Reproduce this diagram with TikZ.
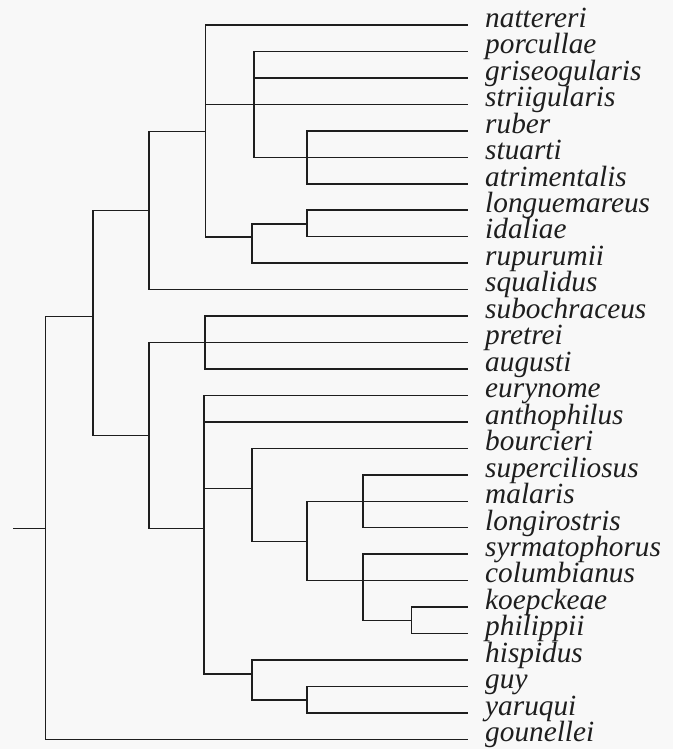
\documentclass[tikz,border=0pt]{standalone}
\usepackage{fontspec}
\setmainfont{Liberation Serif}
\definecolor{ink}{RGB}{30,30,30}
\definecolor{paper}{RGB}{248,248,248}
\begin{document}
\begin{tikzpicture}[x=1pt,y=-1pt,
  branch/.style={draw=ink, line width=1.5pt, line join=miter},
  lab/.style={anchor=mid west, inner sep=0pt, font=\fontsize{29.3}{31}\selectfont\itshape, text=ink}]
\fill[paper] (0,0) rectangle (673,749);
\useasboundingbox (0,0) rectangle (673,749);
% leaves
\foreach \nm [count=\i from 0] in {nattereri,porcullae,griseogularis,striigularis,ruber,stuarti,atrimentalis,longuemareus,idaliae,rupurumii,squalidus,subochraceus,pretrei,augusti,eurynome,anthophilus,bourcieri,superciliosus,malaris,longirostris,syrmatophorus,columbianus,koepckeae,philippii,hispidus,guy,yaruqui,gounellei}{
  \coordinate (t\i) at (468,{25+26.46*\i});
  \node[lab] (l\i) at (485,{25+26.46*\i}) {\nm};
}
% internal nodes (x, y of attachment to parent)
\coordinate (S) at (13,528.3);
\coordinate (R) at (45.7,528.3);
\coordinate (A) at (93,316.7);
\coordinate (B) at (149,210.5);
\coordinate (C) at (205.7,131.5);
\coordinate (D) at (254,104.4);
\coordinate (E) at (307,157.3);
\coordinate (F) at (252,236.9);
\coordinate (G) at (307,223.8);
\coordinate (I) at (149,435.7);
\coordinate (H) at (205,342.5);
\coordinate (J) at (204,528.3);
\coordinate (K) at (252,488.3);
\coordinate (L) at (307,541.5);
\coordinate (M) at (363,501.3);
\coordinate (N) at (363,580.7);
\coordinate (O) at (411.7,620.4);
\coordinate (P) at (252,673.8);
\coordinate (Q) at (307,700);
% connectors
\draw[branch] (S) -- (R);
\draw[branch] (R) |- (A);
\draw[branch] (R) |- (t27);
\draw[branch] (A) |- (B);
\draw[branch] (A) |- (I);
\draw[branch] (B) |- (C);
\draw[branch] (B) |- (t10);
\draw[branch] (C) |- (t0);
\draw[branch] (C) |- (t3);
\draw[branch] (C) |- (F);
\draw[branch] (D) |- (t1);
\draw[branch] (D) |- (t2);
\draw[branch] (D) |- (t5);
\draw[branch] (E) |- (t4);
\draw[branch] (E) |- (t6);
\draw[branch] (F) |- (G);
\draw[branch] (F) |- (t9);
\draw[branch] (G) |- (t7);
\draw[branch] (G) |- (t8);
\draw[branch] (I) |- (t12);
\draw[branch] (I) |- (J);
\draw[branch] (H) |- (t11);
\draw[branch] (H) |- (t13);
\draw[branch] (J) |- (t14);
\draw[branch] (J) |- (t15);
\draw[branch] (J) |- (K);
\draw[branch] (J) |- (P);
\draw[branch] (K) |- (t16);
\draw[branch] (K) |- (L);
\draw[branch] (L) |- (t18);
\draw[branch] (L) |- (t21);
\draw[branch] (M) |- (t17);
\draw[branch] (M) |- (t19);
\draw[branch] (N) |- (t20);
\draw[branch] (N) |- (O);
\draw[branch] (O) |- (t22);
\draw[branch] (O) |- (t23);
\draw[branch] (P) |- (t24);
\draw[branch] (P) |- (Q);
\draw[branch] (Q) |- (t25);
\draw[branch] (Q) |- (t26);
\end{tikzpicture}
\end{document}
